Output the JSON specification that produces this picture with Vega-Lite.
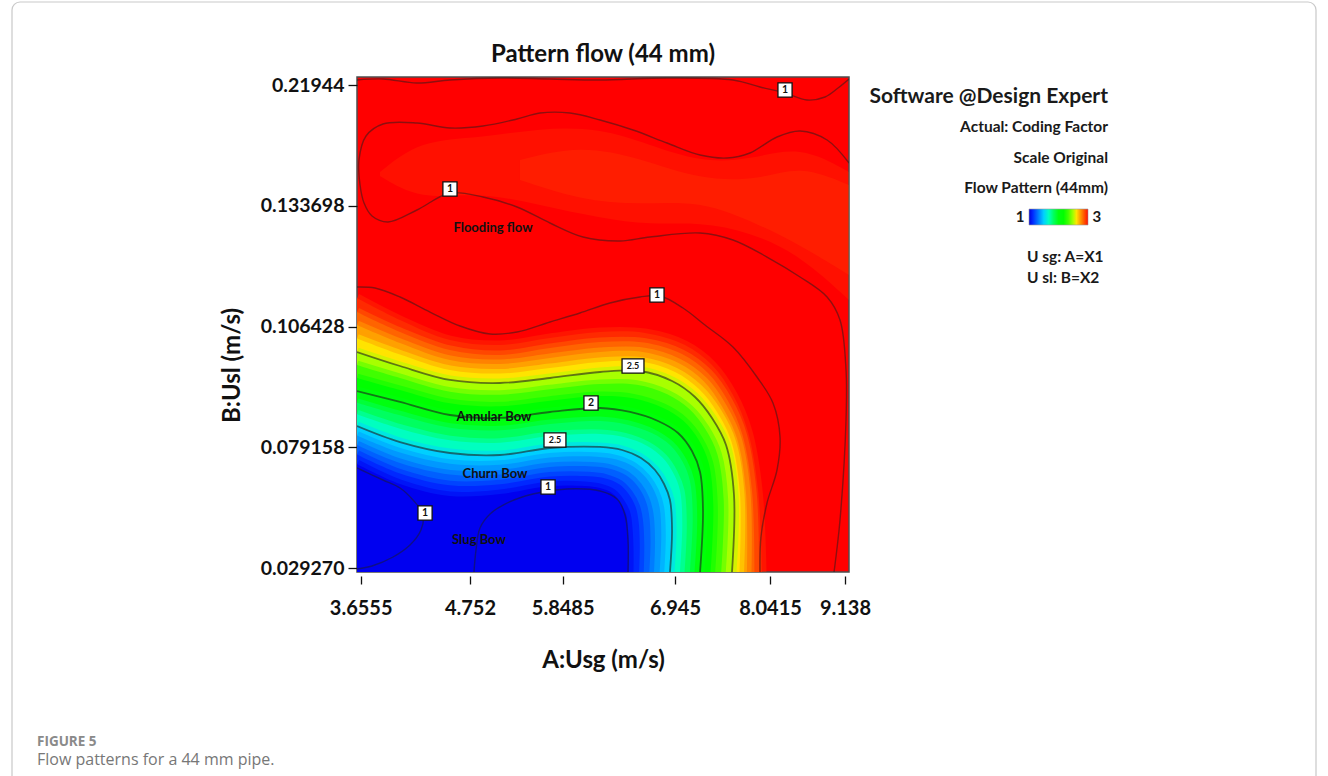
{
"$schema":"https://vega.github.io/schema/vega-lite/v6.json",
"width":492,"height":495,
"autosize":{"type":"none"},
"padding":{"left":357,"top":77,"right":479,"bottom":204},
"background":"#ffffff",
"config":{"view":{"fill":"#ff0000","stroke":"#4d4d4d","strokeWidth":1.5},"font":"Lato"},
"title":{"text":"Pattern flow (44 mm)","font":"Lato","fontSize":24,"fontWeight":"bold","color":"#111111","offset":9,"dy":75,"anchor":"middle","frame":"group"},
"datasets":{
"bands":[
{"b":"b01","lv":2.95,"i":0,"Usg":3.618,"Usl":0.11287},{"b":"b01","lv":2.95,"i":1,"Usg":4.050,"Usl":0.10790},{"b":"b01","lv":2.95,"i":2,"Usg":4.551,"Usl":0.10338},{"b":"b01","lv":2.95,"i":3,"Usg":5.107,"Usl":0.10225},{"b":"b01","lv":2.95,"i":4,"Usg":5.698,"Usl":0.10383},{"b":"b01","lv":2.95,"i":5,"Usg":6.213,"Usl":0.10519},{"b":"b01","lv":2.95,"i":6,"Usg":6.652,"Usl":0.10496},{"b":"b01","lv":2.95,"i":7,"Usg":7.060,"Usl":0.10225},{"b":"b01","lv":2.95,"i":8,"Usg":7.372,"Usl":0.09773},{"b":"b01","lv":2.95,"i":9,"Usg":7.614,"Usl":0.09096},{"b":"b01","lv":2.95,"i":10,"Usg":7.788,"Usl":0.08260},{"b":"b01","lv":2.95,"i":11,"Usg":7.903,"Usl":0.06150},{"b":"b01","lv":2.95,"i":12,"Usg":7.949,"Usl":0.02762},
{"b":"b02","lv":2.84,"i":0,"Usg":3.618,"Usl":0.10970},{"b":"b02","lv":2.84,"i":1,"Usg":4.050,"Usl":0.10519},{"b":"b02","lv":2.84,"i":2,"Usg":4.551,"Usl":0.10112},{"b":"b02","lv":2.84,"i":3,"Usg":5.107,"Usl":0.09999},{"b":"b02","lv":2.84,"i":4,"Usg":5.698,"Usl":0.10157},{"b":"b02","lv":2.84,"i":5,"Usg":6.213,"Usl":0.10293},{"b":"b02","lv":2.84,"i":6,"Usg":6.642,"Usl":0.10281},{"b":"b02","lv":2.84,"i":7,"Usg":7.026,"Usl":0.10022},{"b":"b02","lv":2.84,"i":8,"Usg":7.326,"Usl":0.09592},{"b":"b02","lv":2.84,"i":9,"Usg":7.557,"Usl":0.08960},{"b":"b02","lv":2.84,"i":10,"Usg":7.724,"Usl":0.08192},{"b":"b02","lv":2.84,"i":11,"Usg":7.834,"Usl":0.06108},{"b":"b02","lv":2.84,"i":12,"Usg":7.863,"Usl":0.02762},
{"b":"b03","lv":2.73,"i":0,"Usg":3.618,"Usl":0.10677},{"b":"b03","lv":2.73,"i":1,"Usg":4.050,"Usl":0.10270},{"b":"b03","lv":2.73,"i":2,"Usg":4.551,"Usl":0.09886},{"b":"b03","lv":2.73,"i":3,"Usg":5.107,"Usl":0.09796},{"b":"b03","lv":2.73,"i":4,"Usg":5.698,"Usl":0.09931},{"b":"b03","lv":2.73,"i":5,"Usg":6.213,"Usl":0.10067},{"b":"b03","lv":2.73,"i":6,"Usg":6.628,"Usl":0.10067},{"b":"b03","lv":2.73,"i":7,"Usg":6.985,"Usl":0.09819},{"b":"b03","lv":2.73,"i":8,"Usg":7.274,"Usl":0.09412},{"b":"b03","lv":2.73,"i":9,"Usg":7.488,"Usl":0.08836},{"b":"b03","lv":2.73,"i":10,"Usg":7.661,"Usl":0.08113},{"b":"b03","lv":2.73,"i":11,"Usg":7.764,"Usl":0.06046},{"b":"b03","lv":2.73,"i":12,"Usg":7.776,"Usl":0.02762},
{"b":"b04","lv":2.61,"i":0,"Usg":3.618,"Usl":0.10372},{"b":"b04","lv":2.61,"i":1,"Usg":4.050,"Usl":0.10010},{"b":"b04","lv":2.61,"i":2,"Usg":4.551,"Usl":0.09660},{"b":"b04","lv":2.61,"i":3,"Usg":5.107,"Usl":0.09581},{"b":"b04","lv":2.61,"i":4,"Usg":5.698,"Usl":0.09706},{"b":"b04","lv":2.61,"i":5,"Usg":6.213,"Usl":0.09841},{"b":"b04","lv":2.61,"i":6,"Usg":6.613,"Usl":0.09852},{"b":"b04","lv":2.61,"i":7,"Usg":6.945,"Usl":0.09615},{"b":"b04","lv":2.61,"i":8,"Usg":7.222,"Usl":0.09231},{"b":"b04","lv":2.61,"i":9,"Usg":7.430,"Usl":0.08712},{"b":"b04","lv":2.61,"i":10,"Usg":7.597,"Usl":0.08040},{"b":"b04","lv":2.61,"i":11,"Usg":7.695,"Usl":0.05995},{"b":"b04","lv":2.61,"i":12,"Usg":7.690,"Usl":0.02762},
{"b":"b05","lv":2.5,"i":0,"Usg":3.618,"Usl":0.10067},{"b":"b05","lv":2.5,"i":1,"Usg":4.050,"Usl":0.09751},{"b":"b05","lv":2.5,"i":2,"Usg":4.551,"Usl":0.09435},{"b":"b05","lv":2.5,"i":3,"Usg":5.107,"Usl":0.09367},{"b":"b05","lv":2.5,"i":4,"Usg":5.698,"Usl":0.09480},{"b":"b05","lv":2.5,"i":5,"Usg":6.213,"Usl":0.09615},{"b":"b05","lv":2.5,"i":6,"Usg":6.603,"Usl":0.09638},{"b":"b05","lv":2.5,"i":7,"Usg":6.916,"Usl":0.09412},{"b":"b05","lv":2.5,"i":8,"Usg":7.176,"Usl":0.09051},{"b":"b05","lv":2.5,"i":9,"Usg":7.372,"Usl":0.08576},{"b":"b05","lv":2.5,"i":10,"Usg":7.534,"Usl":0.07967},{"b":"b05","lv":2.5,"i":11,"Usg":7.626,"Usl":0.05943},{"b":"b05","lv":2.5,"i":12,"Usg":7.603,"Usl":0.02762},
{"b":"b06","lv":2.33,"i":0,"Usg":3.618,"Usl":0.09773},{"b":"b06","lv":2.33,"i":1,"Usg":4.050,"Usl":0.09480},{"b":"b06","lv":2.33,"i":2,"Usg":4.551,"Usl":0.09170},{"b":"b06","lv":2.33,"i":3,"Usg":5.107,"Usl":0.09103},{"b":"b06","lv":2.33,"i":4,"Usg":5.698,"Usl":0.09225},{"b":"b06","lv":2.33,"i":5,"Usg":6.213,"Usl":0.09345},{"b":"b06","lv":2.33,"i":6,"Usg":6.571,"Usl":0.09328},{"b":"b06","lv":2.33,"i":7,"Usg":6.870,"Usl":0.09112},{"b":"b06","lv":2.33,"i":8,"Usg":7.110,"Usl":0.08780},{"b":"b06","lv":2.33,"i":9,"Usg":7.295,"Usl":0.08328},{"b":"b06","lv":2.33,"i":10,"Usg":7.433,"Usl":0.07637},{"b":"b06","lv":2.33,"i":11,"Usg":7.507,"Usl":0.05736},{"b":"b06","lv":2.33,"i":12,"Usg":7.479,"Usl":0.02762},
{"b":"b07","lv":2.17,"i":0,"Usg":3.618,"Usl":0.09480},{"b":"b07","lv":2.17,"i":1,"Usg":4.050,"Usl":0.09209},{"b":"b07","lv":2.17,"i":2,"Usg":4.551,"Usl":0.08908},{"b":"b07","lv":2.17,"i":3,"Usg":5.107,"Usl":0.08841},{"b":"b07","lv":2.17,"i":4,"Usg":5.698,"Usl":0.08967},{"b":"b07","lv":2.17,"i":5,"Usg":6.213,"Usl":0.09073},{"b":"b07","lv":2.17,"i":6,"Usg":6.538,"Usl":0.09021},{"b":"b07","lv":2.17,"i":7,"Usg":6.825,"Usl":0.08809},{"b":"b07","lv":2.17,"i":8,"Usg":7.045,"Usl":0.08509},{"b":"b07","lv":2.17,"i":9,"Usg":7.219,"Usl":0.08080},{"b":"b07","lv":2.17,"i":10,"Usg":7.334,"Usl":0.07265},{"b":"b07","lv":2.17,"i":11,"Usg":7.387,"Usl":0.05530},{"b":"b07","lv":2.17,"i":12,"Usg":7.357,"Usl":0.02762},
{"b":"b08","lv":2.0,"i":0,"Usg":3.618,"Usl":0.09186},{"b":"b08","lv":2.0,"i":1,"Usg":4.050,"Usl":0.08938},{"b":"b08","lv":2.0,"i":2,"Usg":4.551,"Usl":0.08644},{"b":"b08","lv":2.0,"i":3,"Usg":5.107,"Usl":0.08577},{"b":"b08","lv":2.0,"i":4,"Usg":5.698,"Usl":0.08712},{"b":"b08","lv":2.0,"i":5,"Usg":6.213,"Usl":0.08802},{"b":"b08","lv":2.0,"i":6,"Usg":6.506,"Usl":0.08712},{"b":"b08","lv":2.0,"i":7,"Usg":6.779,"Usl":0.08509},{"b":"b08","lv":2.0,"i":8,"Usg":6.980,"Usl":0.08237},{"b":"b08","lv":2.0,"i":9,"Usg":7.141,"Usl":0.07761},{"b":"b08","lv":2.0,"i":10,"Usg":7.234,"Usl":0.06893},{"b":"b08","lv":2.0,"i":11,"Usg":7.268,"Usl":0.05323},{"b":"b08","lv":2.0,"i":12,"Usg":7.234,"Usl":0.02762},
{"b":"b09","lv":1.83,"i":0,"Usg":3.618,"Usl":0.08922},{"b":"b09","lv":1.83,"i":1,"Usg":4.050,"Usl":0.08637},{"b":"b09","lv":1.83,"i":2,"Usg":4.551,"Usl":0.08357},{"b":"b09","lv":1.83,"i":3,"Usg":5.107,"Usl":0.08299},{"b":"b09","lv":1.83,"i":4,"Usg":5.698,"Usl":0.08441},{"b":"b09","lv":1.83,"i":5,"Usg":6.213,"Usl":0.08509},{"b":"b09","lv":1.83,"i":6,"Usg":6.479,"Usl":0.08425},{"b":"b09","lv":1.83,"i":7,"Usg":6.723,"Usl":0.08231},{"b":"b09","lv":1.83,"i":8,"Usg":6.899,"Usl":0.07960},{"b":"b09","lv":1.83,"i":9,"Usg":7.034,"Usl":0.07306},{"b":"b09","lv":1.83,"i":10,"Usg":7.118,"Usl":0.06509},{"b":"b09","lv":1.83,"i":11,"Usg":7.149,"Usl":0.05046},{"b":"b09","lv":1.83,"i":12,"Usg":7.118,"Usl":0.02762},
{"b":"b10","lv":1.67,"i":0,"Usg":3.618,"Usl":0.08660},{"b":"b10","lv":1.67,"i":1,"Usg":4.050,"Usl":0.08335},{"b":"b10","lv":1.67,"i":2,"Usg":4.551,"Usl":0.08073},{"b":"b10","lv":1.67,"i":3,"Usg":5.107,"Usl":0.08019},{"b":"b10","lv":1.67,"i":4,"Usg":5.698,"Usl":0.08170},{"b":"b10","lv":1.67,"i":5,"Usg":6.213,"Usl":0.08215},{"b":"b10","lv":1.67,"i":6,"Usg":6.454,"Usl":0.08141},{"b":"b10","lv":1.67,"i":7,"Usg":6.669,"Usl":0.07951},{"b":"b10","lv":1.67,"i":8,"Usg":6.825,"Usl":0.07484},{"b":"b10","lv":1.67,"i":9,"Usg":6.928,"Usl":0.06852},{"b":"b10","lv":1.67,"i":10,"Usg":7.003,"Usl":0.06121},{"b":"b10","lv":1.67,"i":11,"Usg":7.029,"Usl":0.04774},{"b":"b10","lv":1.67,"i":12,"Usg":7.003,"Usl":0.02762},
{"b":"b11","lv":1.5,"i":0,"Usg":3.618,"Usl":0.08396},{"b":"b11","lv":1.5,"i":1,"Usg":4.050,"Usl":0.08034},{"b":"b11","lv":1.5,"i":2,"Usg":4.551,"Usl":0.07678},{"b":"b11","lv":1.5,"i":3,"Usg":5.107,"Usl":0.07596},{"b":"b11","lv":1.5,"i":4,"Usg":5.698,"Usl":0.07885},{"b":"b11","lv":1.5,"i":5,"Usg":6.213,"Usl":0.07922},{"b":"b11","lv":1.5,"i":6,"Usg":6.428,"Usl":0.07802},{"b":"b11","lv":1.5,"i":7,"Usg":6.613,"Usl":0.07472},{"b":"b11","lv":1.5,"i":8,"Usg":6.750,"Usl":0.06976},{"b":"b11","lv":1.5,"i":9,"Usg":6.838,"Usl":0.06398},{"b":"b11","lv":1.5,"i":10,"Usg":6.896,"Usl":0.05736},{"b":"b11","lv":1.5,"i":11,"Usg":6.916,"Usl":0.04497},{"b":"b11","lv":1.5,"i":12,"Usg":6.896,"Usl":0.02762},
{"b":"b12","lv":1.375,"i":0,"Usg":3.618,"Usl":0.08181},{"b":"b12","lv":1.375,"i":1,"Usg":4.050,"Usl":0.07699},{"b":"b12","lv":1.375,"i":2,"Usg":4.551,"Usl":0.07234},{"b":"b12","lv":1.375,"i":3,"Usg":5.107,"Usl":0.07193},{"b":"b12","lv":1.375,"i":4,"Usg":5.698,"Usl":0.07492},{"b":"b12","lv":1.375,"i":5,"Usg":6.176,"Usl":0.07523},{"b":"b12","lv":1.375,"i":6,"Usg":6.374,"Usl":0.07410},{"b":"b12","lv":1.375,"i":7,"Usg":6.542,"Usl":0.07110},{"b":"b12","lv":1.375,"i":8,"Usg":6.664,"Usl":0.06645},{"b":"b12","lv":1.375,"i":9,"Usg":6.745,"Usl":0.06088},{"b":"b12","lv":1.375,"i":10,"Usg":6.794,"Usl":0.05447},{"b":"b12","lv":1.375,"i":11,"Usg":6.811,"Usl":0.04311},{"b":"b12","lv":1.375,"i":12,"Usg":6.796,"Usl":0.02762},
{"b":"b13","lv":1.25,"i":0,"Usg":3.618,"Usl":0.07967},{"b":"b13","lv":1.25,"i":1,"Usg":4.050,"Usl":0.07265},{"b":"b13","lv":1.25,"i":2,"Usg":4.551,"Usl":0.06790},{"b":"b13","lv":1.25,"i":3,"Usg":5.107,"Usl":0.06790},{"b":"b13","lv":1.25,"i":4,"Usg":5.698,"Usl":0.07100},{"b":"b13","lv":1.25,"i":5,"Usg":6.139,"Usl":0.07120},{"b":"b13","lv":1.25,"i":6,"Usg":6.320,"Usl":0.07017},{"b":"b13","lv":1.25,"i":7,"Usg":6.471,"Usl":0.06749},{"b":"b13","lv":1.25,"i":8,"Usg":6.579,"Usl":0.06315},{"b":"b13","lv":1.25,"i":9,"Usg":6.652,"Usl":0.05778},{"b":"b13","lv":1.25,"i":10,"Usg":6.691,"Usl":0.05158},{"b":"b13","lv":1.25,"i":11,"Usg":6.706,"Usl":0.04125},{"b":"b13","lv":1.25,"i":12,"Usg":6.696,"Usl":0.02762},
{"b":"b14","lv":1.125,"i":0,"Usg":3.618,"Usl":0.07616},{"b":"b14","lv":1.125,"i":1,"Usg":4.050,"Usl":0.06831},{"b":"b14","lv":1.125,"i":2,"Usg":4.551,"Usl":0.06346},{"b":"b14","lv":1.125,"i":3,"Usg":5.107,"Usl":0.06387},{"b":"b14","lv":1.125,"i":4,"Usg":5.698,"Usl":0.06707},{"b":"b14","lv":1.125,"i":5,"Usg":6.103,"Usl":0.06718},{"b":"b14","lv":1.125,"i":6,"Usg":6.266,"Usl":0.06625},{"b":"b14","lv":1.125,"i":7,"Usg":6.401,"Usl":0.06387},{"b":"b14","lv":1.125,"i":8,"Usg":6.493,"Usl":0.05984},{"b":"b14","lv":1.125,"i":9,"Usg":6.559,"Usl":0.05468},{"b":"b14","lv":1.125,"i":10,"Usg":6.589,"Usl":0.04869},{"b":"b14","lv":1.125,"i":11,"Usg":6.601,"Usl":0.03939},{"b":"b14","lv":1.125,"i":12,"Usg":6.596,"Usl":0.02762},
{"b":"b15","lv":1.0,"i":0,"Usg":3.618,"Usl":0.07224},{"b":"b15","lv":1.0,"i":1,"Usg":4.050,"Usl":0.06398},{"b":"b15","lv":1.0,"i":2,"Usg":4.551,"Usl":0.05902},{"b":"b15","lv":1.0,"i":3,"Usg":5.107,"Usl":0.05984},{"b":"b15","lv":1.0,"i":4,"Usg":5.698,"Usl":0.06315},{"b":"b15","lv":1.0,"i":5,"Usg":6.066,"Usl":0.06315},{"b":"b15","lv":1.0,"i":6,"Usg":6.213,"Usl":0.06232},{"b":"b15","lv":1.0,"i":7,"Usg":6.330,"Usl":0.06026},{"b":"b15","lv":1.0,"i":8,"Usg":6.408,"Usl":0.05654},{"b":"b15","lv":1.0,"i":9,"Usg":6.467,"Usl":0.05158},{"b":"b15","lv":1.0,"i":10,"Usg":6.486,"Usl":0.04580},{"b":"b15","lv":1.0,"i":11,"Usg":6.496,"Usl":0.03753},{"b":"b15","lv":1.0,"i":12,"Usg":6.496,"Usl":0.02762}
],
"lines":[
{"id":"A","i":0,"Usg":3.618,"Usl":0.22299},{"id":"A","i":1,"Usg":3.879,"Usl":0.22370},{"id":"A","i":2,"Usg":4.220,"Usl":0.22086},{"id":"A","i":3,"Usg":4.551,"Usl":0.22299},{"id":"A","i":4,"Usg":5.107,"Usl":0.22441},{"id":"A","i":5,"Usg":5.698,"Usl":0.22370},{"id":"A","i":6,"Usg":6.213,"Usl":0.22299},{"id":"A","i":7,"Usg":6.867,"Usl":0.22441},{"id":"A","i":8,"Usg":7.614,"Usl":0.22299},{"id":"A","i":9,"Usg":7.926,"Usl":0.21802},{"id":"A","i":10,"Usg":8.261,"Usl":0.21376},{"id":"A","i":11,"Usg":8.583,"Usl":0.20879},{"id":"A","i":12,"Usg":8.846,"Usl":0.21092},{"id":"A","i":13,"Usg":9.036,"Usl":0.21731},{"id":"A","i":14,"Usg":9.197,"Usl":0.22370},
{"id":"B","i":0,"Usg":9.197,"Usl":0.16405},{"id":"B","i":1,"Usg":8.876,"Usl":0.18039},{"id":"B","i":2,"Usg":8.481,"Usl":0.18678},{"id":"B","i":3,"Usg":8.144,"Usl":0.18252},{"id":"B","i":4,"Usg":7.810,"Usl":0.17116},{"id":"B","i":5,"Usg":7.545,"Usl":0.16760},{"id":"B","i":6,"Usg":7.234,"Usl":0.16973},{"id":"B","i":7,"Usg":6.867,"Usl":0.17826},{"id":"B","i":8,"Usg":6.535,"Usl":0.18749},{"id":"B","i":9,"Usg":6.213,"Usl":0.19459},{"id":"B","i":10,"Usg":5.920,"Usl":0.19956},{"id":"B","i":11,"Usg":5.580,"Usl":0.19956},{"id":"B","i":12,"Usg":5.308,"Usl":0.19530},{"id":"B","i":13,"Usg":4.906,"Usl":0.19033},{"id":"B","i":14,"Usg":4.551,"Usl":0.18891},{"id":"B","i":15,"Usg":4.220,"Usl":0.19246},{"id":"B","i":16,"Usg":3.879,"Usl":0.19175},{"id":"B","i":17,"Usg":3.709,"Usl":0.18323},{"id":"B","i":18,"Usg":3.638,"Usl":0.16618},{"id":"B","i":19,"Usg":3.649,"Usl":0.14843},{"id":"B","i":20,"Usg":3.689,"Usl":0.13565},{"id":"B","i":21,"Usg":3.769,"Usl":0.13138},{"id":"B","i":22,"Usg":3.929,"Usl":0.13003},{"id":"B","i":23,"Usg":4.220,"Usl":0.13274},{"id":"B","i":24,"Usg":4.551,"Usl":0.14275},{"id":"B","i":25,"Usg":4.906,"Usl":0.13991},{"id":"B","i":26,"Usg":5.308,"Usl":0.13342},{"id":"B","i":27,"Usg":5.698,"Usl":0.12980},{"id":"B","i":28,"Usg":6.047,"Usl":0.12664},{"id":"B","i":29,"Usg":6.408,"Usl":0.12574},{"id":"B","i":30,"Usg":6.701,"Usl":0.12664},{"id":"B","i":31,"Usg":7.234,"Usl":0.12754},{"id":"B","i":32,"Usg":7.614,"Usl":0.12596},{"id":"B","i":33,"Usg":8.007,"Usl":0.12212},{"id":"B","i":34,"Usg":8.481,"Usl":0.11761},{"id":"B","i":35,"Usg":8.876,"Usl":0.11309},{"id":"B","i":36,"Usg":9.065,"Usl":0.10790},{"id":"B","i":37,"Usg":9.153,"Usl":0.09660},{"id":"B","i":38,"Usg":9.153,"Usl":0.08531},{"id":"B","i":39,"Usg":9.065,"Usl":0.04910},{"id":"B","i":40,"Usg":8.978,"Usl":0.02762},
{"id":"C","i":0,"Usg":3.618,"Usl":0.11535},{"id":"C","i":1,"Usg":3.799,"Usl":0.11512},{"id":"C","i":2,"Usg":4.050,"Usl":0.11309},{"id":"C","i":3,"Usg":4.351,"Usl":0.10970},{"id":"C","i":4,"Usg":4.652,"Usl":0.10654},{"id":"C","i":5,"Usg":4.989,"Usl":0.10474},{"id":"C","i":6,"Usg":5.308,"Usl":0.10519},{"id":"C","i":7,"Usg":5.698,"Usl":0.10744},{"id":"C","i":8,"Usg":6.017,"Usl":0.10948},{"id":"C","i":9,"Usg":6.310,"Usl":0.11174},{"id":"C","i":10,"Usg":6.603,"Usl":0.11309},{"id":"C","i":11,"Usg":6.799,"Usl":0.11331},{"id":"C","i":12,"Usg":7.037,"Usl":0.11061},{"id":"C","i":13,"Usg":7.291,"Usl":0.10677},{"id":"C","i":14,"Usg":7.614,"Usl":0.10180},{"id":"C","i":15,"Usg":7.891,"Usl":0.09502},{"id":"C","i":16,"Usg":8.085,"Usl":0.08915},{"id":"C","i":17,"Usg":8.188,"Usl":0.08147},{"id":"C","i":18,"Usg":8.144,"Usl":0.06976},{"id":"C","i":19,"Usg":8.007,"Usl":0.05612},{"id":"C","i":20,"Usg":7.937,"Usl":0.04208},{"id":"C","i":21,"Usg":7.926,"Usl":0.02762},
{"id":"M","i":0,"Usg":4.799,"Usl":0.02762},{"id":"M","i":1,"Usg":4.823,"Usl":0.03671},{"id":"M","i":2,"Usg":4.870,"Usl":0.04580},{"id":"M","i":3,"Usg":4.989,"Usl":0.05158},{"id":"M","i":4,"Usg":5.166,"Usl":0.05571},{"id":"M","i":5,"Usg":5.497,"Usl":0.05984},{"id":"M","i":6,"Usg":5.890,"Usl":0.06191},{"id":"M","i":7,"Usg":6.213,"Usl":0.06109},{"id":"M","i":8,"Usg":6.379,"Usl":0.05778},{"id":"M","i":9,"Usg":6.457,"Usl":0.05117},{"id":"M","i":10,"Usg":6.486,"Usl":0.04084},{"id":"M","i":11,"Usg":6.486,"Usl":0.02762},
{"id":"L","i":0,"Usg":3.618,"Usl":0.07059},{"id":"L","i":1,"Usg":3.879,"Usl":0.06563},{"id":"L","i":2,"Usg":4.050,"Usl":0.06232},{"id":"L","i":3,"Usg":4.180,"Usl":0.05736},{"id":"L","i":4,"Usg":4.281,"Usl":0.05158},{"id":"L","i":5,"Usg":4.260,"Usl":0.04497},{"id":"L","i":6,"Usg":4.150,"Usl":0.03877},{"id":"L","i":7,"Usg":3.980,"Usl":0.03381},{"id":"L","i":8,"Usg":3.769,"Usl":0.03010},{"id":"L","i":9,"Usg":3.618,"Usl":0.02886}
],
"tint":[
{"t":"o","Usg":3.849,"Usl":0.15766,"Usl2":0.15482},{"t":"o","Usg":4.250,"Usl":0.18039,"Usl2":0.13778},{"t":"o","Usg":4.870,"Usl":0.18181,"Usl2":0.14346},{"t":"o","Usg":5.580,"Usl":0.18891,"Usl2":0.13423},{"t":"o","Usg":6.213,"Usl":0.18891,"Usl2":0.13093},{"t":"o","Usg":6.701,"Usl":0.17684,"Usl2":0.12935},{"t":"o","Usg":7.234,"Usl":0.16476,"Usl2":0.13003},{"t":"o","Usg":7.810,"Usl":0.16618,"Usl2":0.12777},{"t":"o","Usg":8.481,"Usl":0.17684,"Usl2":0.12258},{"t":"o","Usg":9.197,"Usl":0.15766,"Usl2":0.11241},
{"t":"n","Usg":5.343,"Usl":0.16618,"Usl2":0.15198},{"t":"n","Usg":6.017,"Usl":0.17684,"Usl2":0.13778},{"t":"n","Usg":6.603,"Usl":0.16760,"Usl2":0.13423},{"t":"n","Usg":7.234,"Usl":0.15198,"Usl2":0.13778},{"t":"n","Usg":7.926,"Usl":0.15198,"Usl2":0.12935},{"t":"n","Usg":8.481,"Usl":0.16263,"Usl2":0.12483},{"t":"n","Usg":9.197,"Usl":0.14843,"Usl2":0.11806}
],
"clabels":[
{"t":"1","Usg":8.261,"Usl":0.21589},{"t":"1","Usg":4.551,"Usl":0.14559},{"t":"1","Usg":6.769,"Usl":0.11354},{"t":"2.5","Usg":6.535,"Usl":0.09751},{"t":"2","Usg":6.125,"Usl":0.08915},{"t":"2.5","Usg":5.757,"Usl":0.08080},{"t":"1","Usg":5.675,"Usl":0.06273},{"t":"1","Usg":4.301,"Usl":0.05199}
],
"regions":[
{"t":"Flooding flow","Usg":5.024,"Usl":0.12867},{"t":"Annular Bow","Usg":5.036,"Usl":0.08599},{"t":"Churn Bow","Usg":5.048,"Usl":0.06811},{"t":"Slug Bow","Usg":4.858,"Usl":0.04084}
]
},
"layer":[
{
"encoding":{
"x":{"field":"Usg","type":"quantitative","scale":{"domain":[3.618,3.6555,4.752,5.8485,6.945,8.0415,9.138,9.1965],"range":[0,3.7,113,205.7,318,413,488,492],"zero":false,"nice":false},
"axis":{"values":[3.6555,4.752,5.8485,6.945,8.0415,9.138],"labelExpr":"format(datum.value, '~r')","title":"A:Usg (m/s)","grid":false,"domain":false,"ticks":true,"tickSize":8,"tickColor":"#111111","tickWidth":1.3,"offset":4,"labelFont":"Lato","labelFontSize":20,"labelFontWeight":"bold","labelColor":"#111111","labelPadding":14,"labelFlush":false,"labelOverlap":false,"titleFont":"Lato","titleFontSize":24,"titleFontWeight":"bold","titleColor":"#111111","titlePadding":30}},
"y":{"field":"Usl","type":"quantitative","stack":null,"scale":{"domain":[0.02762,0.02927,0.079158,0.106428,0.133698,0.21944,0.22512],"range":[495,491,370.25,249.5,128.75,8,0],"zero":false,"nice":false},
"axis":{"values":[0.02927,0.079158,0.106428,0.133698,0.21944],"labelExpr":"datum.value < 0.03 ? '0.029270' : format(datum.value, '~r')","title":"B:Usl (m/s)","titleY":288,"grid":false,"domain":false,"tickSize":9,"tickColor":"#111111","tickWidth":1.3,"labelFont":"Lato","labelFontSize":19.5,"labelFontWeight":"bold","labelColor":"#111111","labelPadding":4,"labelOverlap":false,"titleFont":"Lato","titleFontSize":24,"titleFontWeight":"bold","titleColor":"#111111","titlePadding":16}}
},
"layer":[
{"data":{"name":"tint"},"mark":{"type":"area","interpolate":"basis","clip":true,"color":"#ff5a00","opacity":0.18},
"encoding":{"y2":{"field":"Usl2"},"detail":{"field":"t"}}},
{"data":{"name":"bands"},"mark":{"type":"area","interpolate":"catmull-rom","clip":true},
"encoding":{"y2":{"datum":0.02762},"detail":{"field":"b"},"order":{"value":null},
"color":{"field":"lv","type":"quantitative","scale":{"domain":[1,1.125,1.25,1.375,1.5,1.67,1.83,2,2.17,2.33,2.5,2.61,2.73,2.84,2.95,3],"range":["#0000f0","#0028ff","#0060ff","#0098ff","#00d0ff","#00ffc0","#00ff60","#00ff10","#00ff00","#40ff00","#a8ff00","#ffe400","#ffa000","#ff6400","#ff2a00","#ff0000"],"interpolate":"rgb"},"legend":null}}},
{"data":{"name":"bands"},"mark":{"type":"line","interpolate":"catmull-rom","clip":true,"strokeWidth":9,"opacity":0.5,"strokeCap":"butt"},
"encoding":{"detail":{"field":"b"},"order":{"field":"i","type":"quantitative"},"color":{"field":"lv","type":"quantitative","legend":null}}},
{"data":{"name":"bands"},"transform":[{"filter":"datum.b == 'b05' || datum.b == 'b08' || datum.b == 'b11'"}],"mark":{"type":"line","interpolate":"catmull-rom","clip":true,"color":"#1e1e1e","opacity":0.6,"strokeWidth":1.8},
"encoding":{"detail":{"field":"b"},"order":{"field":"i","type":"quantitative"}}},
{"data":{"name":"lines"},"mark":{"type":"line","interpolate":"catmull-rom","clip":true,"color":"#1e1e1e","opacity":0.5,"strokeWidth":1.4},
"encoding":{"detail":{"field":"id"},"order":{"field":"i","type":"quantitative"}}},
{"data":{"name":"regions"},"mark":{"type":"text","font":"Lato","fontSize":13,"fontWeight":"bold","color":"#111111","align":"center","baseline":"middle"},
"encoding":{"text":{"field":"t"}}},
{"data":{"name":"clabels"},"mark":{"type":"point","filled":true,"fill":"#ffffff","stroke":"#111111","strokeWidth":1.3,"opacity":1},
"encoding":{"shape":{"condition":{"test":"datum.t == '2.5'","value":"M-1.55,-1H1.55V1H-1.55Z"},"value":"square"},"size":{"value":200}}},
{"data":{"name":"clabels"},"mark":{"type":"text","font":"Lato","fontWeight":"bold","color":"#111111","align":"center","baseline":"middle"},
"encoding":{"text":{"field":"t"},"size":{"condition":{"test":"datum.t == '2.5'","value":9},"value":10.5}}}
]
},
{"data":{"values":[{"k":1,"t":"Software @Design Expert"},{"k":2,"t":"Actual: Coding Factor"},{"k":3,"t":"Scale Original"},{"k":4,"t":"Flow Pattern (44mm)"}]},
"mark":{"type":"text","align":"right","baseline":"middle","font":"Lato","fontWeight":"bold","color":"#1a1a1a"},
"encoding":{"x":{"datum":1,"type":"quantitative","scale":{"domain":[0,1],"range":[0,751]},"axis":null},
"y":{"field":"k","type":"ordinal","scale":{"type":"point","domain":[1,2,3,4],"range":[20,111],"padding":0},"axis":null},
"text":{"field":"t"},"size":{"condition":{"test":"datum.k == 1","value":21},"value":15.5}}},
{"data":{"values":[{"lo":"1","hi":"3"}]},
"encoding":{"x":{"datum":0,"type":"quantitative","scale":{"domain":[0,1],"range":[672,731]},"axis":null},
"y":{"datum":0,"type":"quantitative","scale":{"domain":[0,1],"range":[132,148]},"axis":null}},
"layer":[
{"mark":{"type":"rect","stroke":"#9a9a9a","strokeWidth":0.6,"color":{"gradient":"linear","x1":0,"y1":0,"x2":1,"y2":0,"stops":[{"offset":0,"color":"#0000d8"},{"offset":0.0625,"color":"#0028ff"},{"offset":0.125,"color":"#0060ff"},{"offset":0.1875,"color":"#0098ff"},{"offset":0.25,"color":"#00d0ff"},{"offset":0.335,"color":"#00ffc0"},{"offset":0.415,"color":"#00ff60"},{"offset":0.5,"color":"#00ff10"},{"offset":0.585,"color":"#00ff00"},{"offset":0.665,"color":"#40ff00"},{"offset":0.75,"color":"#a8ff00"},{"offset":0.805,"color":"#ffe400"},{"offset":0.865,"color":"#ffa000"},{"offset":0.92,"color":"#ff6400"},{"offset":0.975,"color":"#ff2a00"},{"offset":1,"color":"#ff0000"}]}},
"encoding":{"x2":{"datum":1},"y2":{"datum":1}}},
{"mark":{"type":"text","align":"center","baseline":"middle","font":"Lato","fontWeight":"bold","fontSize":15,"color":"#1a1a1a"},
"encoding":{"x":{"datum":-0.15},"y":{"datum":0.5},"text":{"field":"lo"}}},
{"mark":{"type":"text","align":"center","baseline":"middle","font":"Lato","fontWeight":"bold","fontSize":15,"color":"#1a1a1a"},
"encoding":{"x":{"datum":1.15},"y":{"datum":0.5},"text":{"field":"hi"}}}
]},
{"data":{"values":[{"k":6,"t":"U sg: A=X1"},{"k":7,"t":"U sl: B=X2"}]},
"mark":{"type":"text","align":"left","baseline":"middle","font":"Lato","fontWeight":"bold","fontSize":15.5,"color":"#1a1a1a"},
"encoding":{"x":{"datum":1,"type":"quantitative","scale":{"domain":[0,1],"range":[0,670]},"axis":null},
"y":{"field":"k","type":"ordinal","scale":{"type":"point","domain":[6,7],"range":[180,201],"padding":0},"axis":null},
"text":{"field":"t"}}},
{"data":{"values":[{"k":1,"t":"FIGURE 5"},{"k":2,"t":"Flow patterns for a 44 mm pipe."}]},
"encoding":{"x":{"datum":1,"type":"quantitative","scale":{"domain":[0,1],"range":[0,-320]},"axis":null},
"y":{"field":"k","type":"ordinal","scale":{"type":"point","domain":[1,2],"range":[665,683],"padding":0},"axis":null},
"text":{"field":"t"}},
"layer":[
{"transform":[{"filter":"datum.k == 1"}],"mark":{"type":"text","align":"left","baseline":"middle","font":"Open Sans","fontSize":13.5,"fontWeight":"bold","color":"#8a8a8a"}},
{"transform":[{"filter":"datum.k == 2"}],"mark":{"type":"text","align":"left","baseline":"middle","font":"Open Sans","fontSize":16,"color":"#777777"}}
]},
{"data":{"values":[{"frame":"figure"}]},
"mark":{"type":"rect","fillOpacity":0,"stroke":"#c9c9c9","strokeWidth":1.2,"cornerRadius":8},
"encoding":{"x":{"datum":0,"type":"quantitative","scale":{"domain":[0,1],"range":[-345,959]},"axis":null},"x2":{"datum":1},
"y":{"datum":0,"type":"quantitative","scale":{"domain":[0,1],"range":[-75,760]},"axis":null},"y2":{"datum":1}}}
],
"resolve":{"scale":{"x":"independent","y":"independent"}}
}
